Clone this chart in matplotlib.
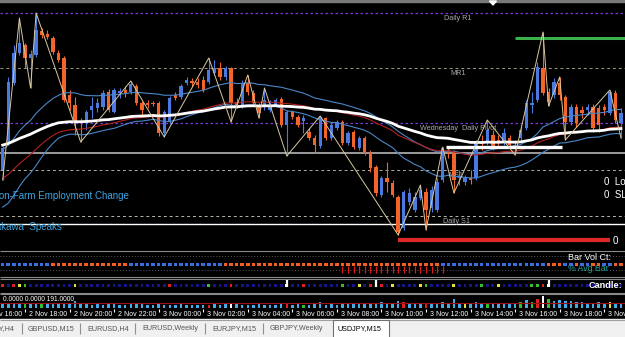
import numpy as np
import matplotlib
matplotlib.use("Agg")
import matplotlib.pyplot as plt
from matplotlib.transforms import blended_transform_factory, offset_copy
from matplotlib.patches import Rectangle, Polygon

plt.rcParams['font.family'] = ['Liberation Sans', 'DejaVu Sans']

# ---------------- data (USDJPY M15) ----------------
opens = [113.900,114.040,114.335,114.485,114.525,114.460,114.475,114.595,114.580,114.560,
         114.485,114.460,114.275,114.225,114.145,114.135,114.200,114.210,114.215,114.290,
         114.190,114.285,114.300,114.290,114.320,114.235,114.235,114.235,114.235,114.085,
         114.145,114.275,114.265,114.335,114.345,114.340,114.350,114.340,114.385,114.410,
         114.365,114.410,114.240,114.225,114.335,114.285,114.225,114.215,114.200,114.225,
         114.255,114.125,114.190,114.165,114.145,114.090,114.060,114.020,114.160,114.060,
         114.110,114.140,114.035,114.090,114.010,114.060,113.985,113.915,113.775,113.860,
         113.835,113.765,113.610,113.740,113.700,113.760,113.790,113.710,113.700,113.850,
         114.000,113.985,113.860,113.840,113.860,113.860,114.040,114.040,114.075,114.050,
         114.040,114.060,114.025,114.060,114.110,114.225,114.250,114.410,114.290,114.275,
         114.335,114.265,114.140,114.215,114.200,114.200,114.215,114.210,114.215,114.185,
         114.285,114.135]
highs = [114.020,114.365,114.525,114.660,114.535,114.500,114.685,114.610,114.600,114.570,
         114.500,114.470,114.300,114.265,114.160,114.200,114.265,114.260,114.300,114.305,
         114.310,114.310,114.320,114.345,114.330,114.245,114.250,114.245,114.245,114.200,
         114.270,114.290,114.330,114.365,114.360,114.360,114.370,114.460,114.450,114.440,
         114.420,114.415,114.260,114.350,114.375,114.300,114.235,114.310,114.250,114.260,
         114.265,114.200,114.200,114.175,114.175,114.110,114.075,114.170,114.165,114.140,
         114.150,114.150,114.095,114.100,114.070,114.070,114.000,113.925,113.870,113.940,
         113.850,113.775,113.800,113.810,113.790,113.825,113.810,113.820,113.860,114.015,
         114.010,114.000,113.900,113.875,113.900,114.050,114.075,114.150,114.100,114.075,
         114.110,114.075,114.050,114.125,114.250,114.290,114.440,114.590,114.310,114.360,
         114.365,114.275,114.230,114.230,114.220,114.230,114.230,114.225,114.230,114.300,
         114.300,114.210]
lows = [113.850,114.025,114.325,114.475,114.410,114.310,114.465,114.560,114.555,114.480,
        114.440,114.240,114.200,114.075,114.040,114.100,114.160,114.190,114.200,114.190,
        114.185,114.260,114.265,114.280,114.225,114.165,114.210,114.220,114.070,114.065,
        114.130,114.250,114.255,114.325,114.320,114.310,114.290,114.330,114.375,114.350,
        114.350,114.140,114.210,114.210,114.275,114.220,114.160,114.200,114.190,114.215,
        114.115,113.970,114.155,114.115,114.085,114.050,113.985,114.010,114.050,114.050,
        114.100,114.025,114.025,114.005,114.000,113.975,113.890,113.770,113.765,113.790,
        113.765,113.575,113.600,113.725,113.690,113.750,113.600,113.690,113.690,113.840,
        113.960,113.785,113.825,113.825,113.830,113.850,114.000,114.025,114.000,114.015,
        114.025,114.010,113.975,114.040,114.100,114.185,114.240,114.275,114.220,114.260,
        114.250,114.050,114.125,114.115,114.160,114.175,114.090,114.090,114.175,114.175,
        114.135,114.060]
closes = [114.010,114.340,114.485,114.535,114.460,114.480,114.600,114.575,114.565,114.490,
          114.450,114.250,114.235,114.140,114.140,114.190,114.220,114.235,114.285,114.200,
          114.300,114.295,114.285,114.330,114.235,114.200,114.225,114.230,114.085,114.190,
          114.260,114.260,114.320,114.350,114.335,114.325,114.300,114.400,114.410,114.365,
          114.410,114.235,114.225,114.335,114.290,114.235,114.185,114.250,114.225,114.250,
          114.125,114.190,114.165,114.125,114.160,114.060,114.025,114.165,114.060,114.125,
          114.140,114.035,114.085,114.015,114.060,113.985,113.910,113.785,113.860,113.840,
          113.775,113.590,113.790,113.785,113.765,113.800,113.700,113.800,113.840,114.010,
          113.985,113.850,113.870,113.860,113.850,114.035,114.030,114.100,114.015,114.040,
          114.085,114.025,114.015,114.100,114.235,114.235,114.415,114.285,114.240,114.340,
          114.275,114.140,114.215,114.135,114.185,114.215,114.110,114.125,114.200,114.290,
          114.150,114.185]
volumes = [500,400,600,500,500,400,400,500,400,450,
           450,500,450,800,400,450,350,400,350,450,
           400,350,300,400,450,400,350,300,500,350,
           300,350,400,300,350,300,350,300,450,350,
           500,600,400,350,300,350,400,350,300,300,
           450,500,350,400,300,350,400,700,350,400,
           350,400,450,400,450,500,500,600,650,550,
           600,800,650,500,550,500,600,550,600,700,
           500,1000,600,500,450,700,550,600,500,550,
           600,500,450,650,900,700,1000,1300,950,800,
           900,800,750,650,700,550,600,700,500,650,
           550,500]
vol_colors = {4: 'g', 7: 'g', 37: 'r', 41: 'w', 51: 'r', 54: 'g', 72: 'r', 76: 'r',
              83: 'y', 87: 'g', 93: 'g', 95: 'g', 96: 'r', 97: 'w', 98: 'g', 109: 'y'}
candle_signals = {0: 'r', 2: 'r', 3: 'y', 4: 'g', 13: 'y', 30: 'r', 37: 'g', 41: 'r',
                  51: 'w', 54: 'r', 61: 'g', 64: 'y', 66: 'r', 67: 'w', 68: 'r', 70: 'y',
                  75: 'y', 76: 'g', 81: 'y', 86: 'g', 89: 'y', 95: 'g', 96: 'g', 97: 'r', 98: 'w'}
trend_runs = [(9, 'u'), (14, 'd'), (17, 'u'), (39, 'd'), (19, 'u'), (3, 'd'), (2, 'u'),
              (1, 'd'), (2, 'u'), (2, 'd'), (2, 'u'), (2, 'd')]
vol_flag_bars = list(range(61, 80))

zigzag_bars = [0, 3, 5, 6, 14, 23, 29, 37, 41, 44, 46, 47, 51, 57, 71, 75, 76, 79, 81,
               87, 92, 97, 98, 100, 101, 109, 111]
zigzag_first = 'L'

ma_seeds = {'white': 114.025, 'red': 113.850, 'upper': 114.000, 'lower': 113.705}
ma_periods = {'white': 75, 'red': 45, 'upper': 30, 'lower': 30}

levels = {'Daily R1': 114.685, 'MR1': 114.410, 'Wednesday  Daily Pivot': 114.135,
          'MS1': 113.900, 'Daily S1': 113.670}
gray_level = 113.985
white_level = 113.630
tp_level, tp_from, tp_to = 113.550, 71.0, 109.0
green_level, green_from = 114.560, 92.0
white_seg_level, white_seg_from, white_seg_to = 114.015, 79.5, 100.5

time_tick_bars = [-4, 4, 12, 20, 28, 36, 44, 52, 60, 68, 76, 84, 92, 100, 108]
time_tick_labels = ['2 Nov 16:00', '2 Nov 18:00', '2 Nov 20:00', '2 Nov 22:00',
                    '3 Nov 00:00', '3 Nov 02:00', '3 Nov 04:00', '3 Nov 06:00',
                    '3 Nov 08:00', '3 Nov 10:00', '3 Nov 12:00', '3 Nov 14:00',
                    '3 Nov 16:00', '3 Nov 18:00', '3 Nov 20:00']
tab_labels = ['USDJPY,H4', 'GBPUSD,M15', 'EURUSD,H4', 'EURUSD,Weekly',
              'EURJPY,M15', 'GBPJPY,Weekly', 'USDJPY,M15']

# ---------------- layout ----------------
W, H = 625, 337
BAR_PX, FIRST_PX = 5.57, 2.7
X0 = -FIRST_PX / BAR_PX
X1 = X0 + W / BAR_PX
BULL, BEAR = '#4a7ae0', '#f2642a'

fig = plt.figure(figsize=(W / 100, H / 100), dpi=100, facecolor='black')


def px_rect(x0, y0, x1, y1):
    return [x0 / W, 1 - y1 / H, (x1 - x0) / W, (y1 - y0) / H]


bg = fig.add_axes([0, 0, 1, 1])
bg.set_xlim(0, W)
bg.set_ylim(H, 0)
bg.axis('off')
bg.set_zorder(-1)

# window chrome
bg.add_patch(Rectangle((0, 0), W, 2, color='#7a7a7a'))
bg.add_patch(Polygon([[489.5, 1], [496.5, 1], [493, 5]], closed=True, color='white'))
bg.hlines([250.5, 276.5, 278.5, 292.5, 294.0], 0, W, colors='#8a8a8a', lw=0.8)

# ---------------- main price panel ----------------
ax = fig.add_axes(px_rect(0, 3, W, 250))
ax.set_facecolor('none')
ax.set_xlim(X0, X1)
ax.set_ylim(113.50, 114.735)
ax.axis('off')

o, h, l, c = (np.array(v) for v in (opens, highs, lows, closes))
idx = np.arange(len(o))

# levels
ax.axhline(levels['Daily R1'], color='#7a3ad8', lw=0.9, ls=(0, (2, 2)), zorder=1)
ax.axhline(levels['Wednesday  Daily Pivot'], color='#7a3ad8', lw=0.9, ls=(0, (2, 2)), zorder=1)
ax.axhline(levels['MR1'], color='#a09a80', lw=0.7, ls=(0, (3, 3)), zorder=1)
ax.axhline(levels['MS1'], color='#b0b0a0', lw=0.7, ls=(0, (3, 3)), zorder=1)
ax.axhline(levels['Daily S1'], color='#b8b8a8', lw=0.7, ls=(0, (3, 3)), zorder=1)
ax.axhline(gray_level, color='#a8a8a8', lw=1.3, zorder=1)
ax.axhline(white_level, color='white', lw=1.0, zorder=1)

label_pos = {'Daily R1': (81.7, 'center'), 'MR1': (81.7, 'center'),
             'Wednesday  Daily Pivot': (74.9, 'left'), 'MS1': (80.0, 'left'),
             'Daily S1': (79.0, 'left')}
for name, price in levels.items():
    xb, ha = label_pos[name]
    ax.annotate(name, (xb, price), xytext=(0, -1.2), textcoords='offset points',
                ha=ha, va='top', color='#a8a8a8', fontsize=5.2, zorder=2)

# candles
colors = np.where(c >= o, BULL, BEAR)
ax.vlines(idx, l, h, colors=colors, lw=0.8, zorder=3)
body_lo = np.minimum(o, c)
body_h = np.maximum(np.abs(c - o), 0.003)
ax.bar(idx, body_h, bottom=body_lo, width=0.6, color=colors, linewidth=0, zorder=4)


def ema(values, period, seed):
    a = 2.0 / (period + 1)
    out = np.empty(len(values))
    prev = seed
    for i, v in enumerate(values):
        prev = prev + a * (v - prev)
        out[i] = prev
    return out


ma_white = ema(c, ma_periods['white'], ma_seeds['white'])
ma_red = ema(c, ma_periods['red'], ma_seeds['red'])
ma_up = ema(h, ma_periods['upper'], ma_seeds['upper'])
ma_lo = ema(l, ma_periods['lower'], ma_seeds['lower'])
ax.plot(idx, ma_up, color='#4a86c8', lw=0.8, zorder=5)
ax.plot(idx, ma_lo, color='#4a86c8', lw=0.8, zorder=5)
ax.plot(idx, ma_red, color='#b02020', lw=0.8, zorder=5)
ax.plot(idx, ma_white, color='white', lw=2.0, zorder=6)

# zigzag
zz_price = []
kind = zigzag_first
for b in zigzag_bars:
    zz_price.append(l[b] if kind == 'L' else h[b])
    kind = 'H' if kind == 'L' else 'L'
ax.plot(zigzag_bars, zz_price, color='#d8c8a0', lw=0.7, zorder=7)

# segments
ax.hlines(tp_level, tp_from, tp_to, color='#e02828', lw=3.0, zorder=6)
ax.hlines(green_level, green_from, X1, color='#3cb04a', lw=2.2, zorder=6)
ax.hlines(white_seg_level, white_seg_from, white_seg_to, color='white', lw=2.4, zorder=6)

# overlay texts
fig.text(129 / W, 1 - 196 / H, 'Non-Farm Employment Change', ha='right', va='center',
         color='#3ca4e0', fontsize=7)
fig.text(62 / W, 1 - 227 / H, 'Nakawa  Speaks', ha='right', va='center',
         color='#3ca4e0', fontsize=7)
fig.text(604 / W, 1 - 182 / H, '0  Lots', ha='left', va='center', color='white', fontsize=7)
fig.text(604 / W, 1 - 195 / H, '0  SL', ha='left', va='center', color='white', fontsize=7)
fig.text(613 / W, 1 - 241 / H, '0', ha='left', va='center', color='white', fontsize=7)

# ---------------- sub panel 1: trend squares ----------------
ax1 = fig.add_axes(px_rect(0, 251, W, 276))
ax1.set_facecolor('none')
ax1.set_xlim(X0, X1)
ax1.set_ylim(276, 251)
ax1.axis('off')
ax1.hlines([255.5, 270], X0, X1, colors='#5a5a5a', lw=0.7, ls=(0, (1, 2)))
ax1.text(X1 - 2.6, 257.5, 'Bar Vol Ct:', ha='right', va='center', color='white', fontsize=6.5)
ax1.text(X1 - 3.0, 268.5, '% Avg Bar', ha='right', va='center', color='#1f9f96', fontsize=6.3)
trend = ''.join(code * n for n, code in trend_runs)
tcol = ['#3a6fe0' if t == 'u' else '#f06020' for t in trend]
ax1.scatter(np.arange(len(trend)), np.full(len(trend), 264.5), marker='s', s=6.5,
            c=tcol, linewidths=0, zorder=3)
ax1.vlines(vol_flag_bars, 266, 273, colors='#e01818', lw=0.9, zorder=2)

# ---------------- sub panel 2: candle signals ----------------
ax2 = fig.add_axes(px_rect(0, 279, W, 292))
ax2.set_facecolor('none')
ax2.set_xlim(X0, X1)
ax2.set_ylim(292, 279)
ax2.axis('off')
sig_map = {'r': '#e02020', 'g': '#30c030', 'y': '#e0e040', 'w': '#ffffff'}
scol = [sig_map.get(candle_signals.get(i), '#16168a') for i in idx]
ax2.scatter(idx, np.full(len(idx), 285.5), marker='s', s=4.0, c=scol, linewidths=0)
white_sig = [i for i, v in candle_signals.items() if v == 'w']
ax2.vlines(white_sig, 280, 287, colors='white', lw=1.6)
ax2.text(X1 - 0.5, 286, 'Candle:', ha='right', va='center', color='white',
         fontsize=6.6, fontweight='bold')

# ---------------- sub panel 3: volume ----------------
ax3 = fig.add_axes(px_rect(0, 295, W, 308))
ax3.set_facecolor('none')
ax3.set_xlim(X0, X1)
ax3.set_ylim(0, 1450)
ax3.axis('off')
vmap = {'r': '#e02020', 'g': '#30c030', 'y': '#e0e040', 'w': '#ffffff'}
vcol = [vmap.get(vol_colors.get(i), '#45aeea') for i in idx]
ax3.bar(idx, volumes, width=0.45, color=vcol, linewidth=0)
ax3.axhline(np.mean(volumes), color='#a01010', lw=0.8)
ax3.text(X0 + 0.5, 1000, '0.0000 0.0000 191.0000', ha='left', va='center',
         color='white', fontsize=4.8)

# ---------------- time axis ----------------
tr = blended_transform_factory(ax.transData, bg.transData)
tr_txt = offset_copy(tr, fig=fig, x=4, y=0, units='dots')
bg.vlines(time_tick_bars, 309, 312, colors='white', lw=0.8, transform=tr)
for b, lab in zip(time_tick_bars, time_tick_labels):
    bg.text(b, 315, lab, transform=tr_txt, ha='left', va='center', color='white',
            fontsize=5, clip_on=False)

# ---------------- tab bar ----------------
bg.add_patch(Rectangle((0, 319), W, 18, color='#f0f0f0', zorder=1))
bg.hlines(319.5, 0, W, colors='#a0a0a0', lw=0.8, zorder=2)
bg.add_patch(Rectangle((333, 320), 56, 17.5, facecolor='white', edgecolor='#707070',
                       lw=0.8, zorder=2))
tab_x = [14, 28, 87, 142, 212, 270, 338]
for k, (tx, name) in enumerate(zip(tab_x, tab_labels)):
    bg.text(tx, 328.5, name, ha='right' if k == 0 else 'left', va='center',
            color='black' if k == len(tab_labels) - 1 else '#555555', fontsize=5.2, zorder=3)
bg.vlines([22, 80, 135, 205, 263], 323, 334, colors='#909090', lw=0.8, zorder=2)

fig.savefig('out.png', dpi=100, facecolor='black')
